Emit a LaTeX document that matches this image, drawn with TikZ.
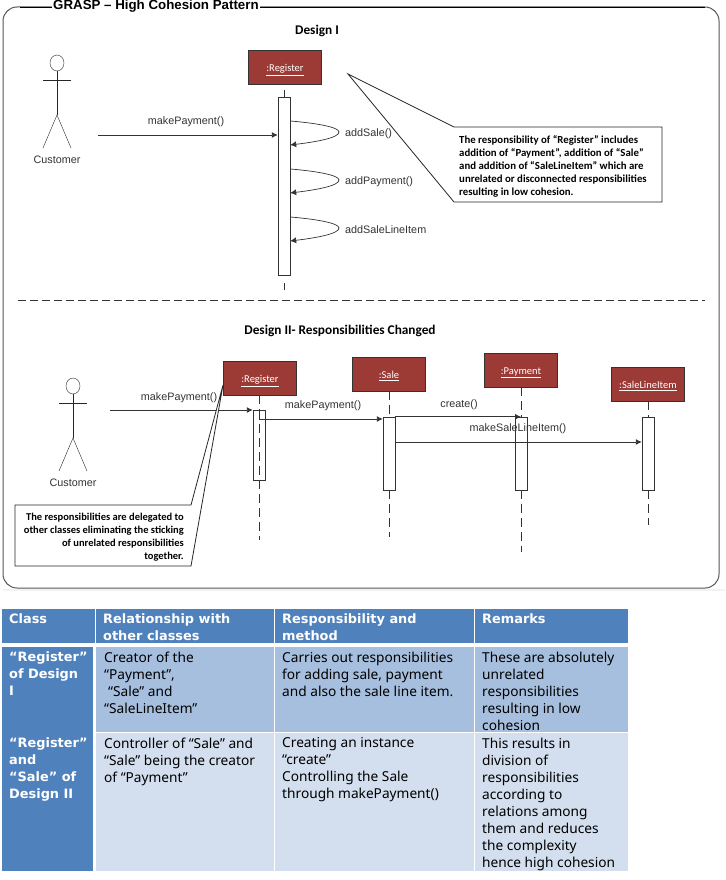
\documentclass[tikz,border=0pt]{standalone}
\usepackage{fontspec}
\usetikzlibrary{positioning,calc,arrows.meta}
\setmainfont{Liberation Sans}
\newfontfamily\callfont{Carlito}
\newfontfamily\tabfont{Noto Sans}
\newfontfamily\headfont{DejaVu Sans}
\definecolor{boxred}{HTML}{9C3A36}
\definecolor{headblue}{HTML}{4F81BD}
\definecolor{rowdark}{HTML}{A7BFDE}
\definecolor{rowlight}{HTML}{D3DFEE}
\definecolor{framegray}{HTML}{555555}
\tikzset{
  objbox/.style={draw=black!80,fill=boxred,minimum width=73pt,minimum height=34pt,inner sep=0pt,text=white,text height=10pt,text depth=1pt,font=\callfont\fontsize{10.5}{12}\selectfont},
  actbar/.style={draw=black!80,fill=white,minimum width=12pt,inner sep=0pt},
  lifeline/.style={black!80,dash pattern=on 9pt off 5pt},
  msg/.style={black!80,line width=0.9pt,-{Latex[length=6pt,width=6pt]}},
  msglabel/.style={inner sep=0pt,yshift=-1.7pt,text=black!80,font=\fontsize{10.8}{12}\selectfont},
  designhead/.style={inner sep=0pt,yshift=-1pt,font=\callfont\bfseries\fontsize{13.3}{15}\selectfont},
  calltext/.style={inner sep=0pt,font=\callfont\bfseries\fontsize{10.8}{13}\selectfont},
  cellbody/.style={anchor=north west,inner sep=0pt,align=left,font=\tabfont\fontsize{13.7}{17}\selectfont},
  cellhead/.style={anchor=north west,inner sep=0pt,align=left,text=white,font=\headfont\bfseries\fontsize{12.9}{17}\selectfont},
}
\begin{document}
\begin{tikzpicture}[x=1pt,y=-1pt]
\useasboundingbox (0,0) rectangle (725,880);
\fill[white] (0,0) rectangle (725,880);
\fill[black!5] (3,589) rectangle (725,591);
\draw[framegray,line width=1pt,rounded corners=14pt] (3,7) rectangle (719,588);
\draw[black,line width=0.8pt] (20,7) -- (705,7);
\node[anchor=west,fill=white,inner sep=1pt,font=\bfseries\fontsize{13.3}{15}\selectfont] (grasp) at (52,6) {GRASP – High Cohesion Pattern};
\node[designhead] (designone) at (317,30) {Design I};
\node[designhead] (designtwo) at (340,330) {Design II- Responsibilities Changed};
\draw[black!80,dash pattern=on 8pt off 4pt,line width=0.9pt] (18,300) -- (705,300);

\foreach \nm/\ax/\ay in {custOne/57/55,custTwo/73/378}{
  \draw[black!85] (\ax,\ay+8) ellipse (7pt and 8pt);
  \draw[black!85] (\ax,\ay+16) -- (\ax,\ay+60);
  \draw[black!85] (\ax-14,\ay+25) -- (\ax+14,\ay+25);
  \draw[black!85] (\ax-14,\ay+93) -- (\ax,\ay+60) -- (\ax+14,\ay+93);
  \node[msglabel] (\nm) at (\ax,\ay+103) {Customer};
}

\node[objbox] (regOne) at (285,67) {\underline{:Register}};
\node[actbar,minimum height=178pt] (barOne) at (284,186) {};
\coordinate (tailOne) at (284,290);
\draw[black!80,dash pattern=on 0pt off 6pt on 8pt] (regOne.south -| barOne) -- (barOne.north);
\draw[black!80,dash pattern=on 0pt off 8pt on 8pt] (barOne.south) -- (tailOne);
\coordinate (payOne) at (98,135);
\draw[msg] (payOne) -- (barOne.west |- payOne);
\node[msglabel] (payOneLabel) at (186,120) {makePayment()};
\foreach \lab/\yy in {addSale()/121,addPayment()/169,addSaleLineItem/217}{
  \coordinate (selfStart) at (barOne.east |- 0,\yy);
  \draw[msg,line width=0.7pt] (selfStart) .. controls (315,\yy+2) and (339,\yy+6) .. (339,\yy+11)
    .. controls (339,\yy+17) and (315,\yy+21) .. (barOne.east |- 0,\yy+24);
  \node[msglabel,anchor=west] (lab\yy) at (345,\yy+11) {\lab};
}
\coordinate (tipOne) at (348,74);
\node[calltext,anchor=north west,align=left] (noteOne) at (459,135) {The responsibility of “Register” includes\\addition of “Payment”, addition of “Sale”\\and addition of “SaleLineItem” which are\\unrelated or disconnected responsibilities\\resulting in low cohesion.};
\draw[black!85,line width=0.8pt] (tipOne) -- (454,127) -- (662,127) -- (662,202) -- (454,202) -- cycle;

\foreach \nm/\cx/\cy/\lab in {regTwo/260/378/:Register,saleTwo/389/374/:Sale,payTwo/521/370/:Payment,itemTwo/648/384/:SaleLineItem}{
  \node[objbox] (\nm) at (\cx,\cy) {\underline{\lab}};
}
\foreach \nm/\objnm/\cx/\cy/\hh/\tl in {barReg/regTwo/259/445/70/540,barSale/saleTwo/389/453.5/73/537,barPay/payTwo/521/453.5/73/552,barItem/itemTwo/648/453.5/73/525}{
  \node[actbar,minimum height=\hh pt] (\nm) at (\cx,\cy) {};
  \coordinate (\nm tail) at (\cx,\tl);
  \draw[lifeline] (\objnm.south -| \nm) -- (\nm.north);
  \draw[lifeline] (\nm.south) -- (\nm tail);
}
\draw[lifeline] (barReg.north) -- (barReg.south);
\coordinate (payTwoStart) at (110,410);
\draw[msg] (payTwoStart) -- (barReg.west |- payTwoStart);
\node[msglabel] (payTwoLabel) at (179,396) {makePayment()};
\draw[msg] (barReg.center |- 0,419) -- (barSale.west |- 0,419);
\node[msglabel] (regSaleLabel) at (323,404) {makePayment()};
\draw[msg] (barSale.north east) -- (barPay.north);
\node[msglabel] (createLabel) at (459,403) {create()};
\draw[msg] (barSale.east |- 0,442) -- (barItem.west |- 0,442);
\node[msglabel] (itemLabel) at (518,427) {makeSaleLineItem()};
\coordinate (tipTwo) at (223,385);
\draw[black!85,line width=0.8pt,fill=white] (tipTwo) -- (191,505) -- (15,505) -- (15,566) -- (191,566) -- cycle;
\node[calltext,anchor=north east,align=right,font=\callfont\bfseries\fontsize{10.5}{13}\selectfont] (noteTwo) at (184,512.5) {The responsibilities are delegated to\\other classes eliminating the sticking\\of unrelated responsibilities\\together.};

\fill[headblue] (2,609) rectangle (95,643);
\fill[headblue] (96,609) rectangle (274,643);
\fill[headblue] (275,609) rectangle (474,643);
\fill[headblue] (475,609) rectangle (628,643);
\fill[headblue] (2,647) rectangle (93,871);
\foreach \xa/\xb in {96/274,275/474,475/628}{
  \fill[rowdark] (\xa,647) rectangle (\xb,732);
  \fill[rowlight] (\xa,733) rectangle (\xb,871);
}
\node[cellhead] (headClass) at (9,613) {Class};
\node[cellhead] (headRel) at (103,613) {Relationship with\\other classes};
\node[cellhead] (headResp) at (282,613) {Responsibility and\\method};
\node[cellhead] (headRem) at (482,613) {Remarks};
\node[cellhead] (rowOneClass) at (9,651.5) {“Register”\\of Design\\I};
\node[cellhead] (rowTwoClass) at (9,737.5) {“Register”\\and\\“Sale” of\\Design II};
\node[cellbody] (rowOneRel) at (104,651.5) {Creator of the\\“Payment”,\\\hspace*{4pt}“Sale” and\\“SaleLineItem”};
\node[cellbody] (rowOneResp) at (282,651.5) {Carries out responsibilities\\for adding sale, payment\\and also the sale line item.};
\node[cellbody] (rowOneRem) at (482,651.5) {These are absolutely\\unrelated\\responsibilities\\resulting in low\\cohesion};
\node[cellbody] (rowTwoRel) at (104,737.5) {Controller of “Sale” and\\“Sale” being the creator\\of “Payment”};
\node[cellbody] (rowTwoResp) at (282,737.5) {Creating an instance\\“create”\\Controlling the Sale\\through makePayment()};
\node[cellbody] (rowTwoRem) at (482,737.5) {This results in\\division of\\responsibilities\\according to\\relations among\\them and reduces\\the complexity\\hence high cohesion};
\end{tikzpicture}
\end{document}
